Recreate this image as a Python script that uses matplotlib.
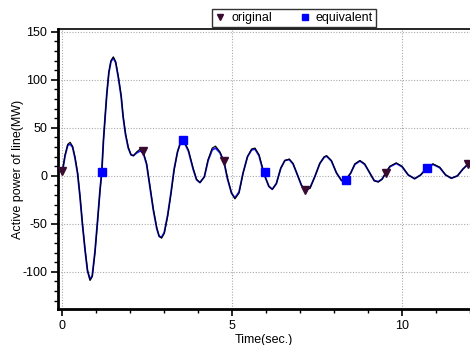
import numpy as np
import matplotlib
matplotlib.use("Agg")
from matplotlib import pyplot as plt
from matplotlib.ticker import MultipleLocator

plt.rcParams['font.family'] = ['Liberation Sans', 'DejaVu Sans']
plt.rcParams['axes.unicode_minus'] = False

# Curve (time in s, power in MW)
time = [0.0, 0.08, 0.16, 0.23, 0.30, 0.37, 0.45, 0.52, 0.59, 0.67, 0.74,
        0.815, 0.88, 0.96, 1.04, 1.11, 1.16, 1.21, 1.26, 1.31, 1.37, 1.43,
        1.50, 1.57, 1.65, 1.73, 1.79, 1.86, 1.94, 2.02, 2.09, 2.19, 2.29,
        2.38, 2.48, 2.58, 2.68, 2.78, 2.85, 2.92, 3.00, 3.10, 3.20, 3.29,
        3.39, 3.49, 3.56, 3.71, 3.85, 3.95, 4.05, 4.18, 4.29, 4.41, 4.51,
        4.64, 4.76, 4.86, 4.98, 5.08, 5.20, 5.32, 5.45, 5.57, 5.67, 5.79,
        5.88, 5.98, 6.08, 6.18, 6.30, 6.43, 6.55, 6.68, 6.79, 6.92, 7.04,
        7.16, 7.29, 7.43, 7.58, 7.71, 7.78, 7.92, 8.07, 8.22, 8.34, 8.49,
        8.61, 8.76, 8.90, 9.05, 9.18, 9.30, 9.41, 9.52, 9.64, 9.83, 10.00,
        10.18, 10.37, 10.55, 10.74, 10.91, 11.11, 11.28, 11.45, 11.63,
        11.79, 11.94, 12.0]
original = [5, 22, 33, 35, 31, 20, 3, -21, -49, -77, -98,
            -109, -105, -80, -46, -15, 4, 37, 62, 86, 108, 120,
            124, 119, 103, 84, 62, 44, 30, 22, 21, 25, 28,
            25, 13, -11, -35, -54, -63, -65, -60, -42, -18, 6,
            25, 36, 37.5, 27, 8, -3.5, -7, -1, 17, 29, 31,
            25, 15, -2, -18, -24, -18, 3, 20, 28, 29, 22,
            10, -2, -11, -14, -8, 8, 16, 17.5, 13, 1, -10,
            -15, -13, -1, 13, 20, 21, 16, 3, -5, -4.5, 3,
            12.5, 16, 12.5, 3, -5, -6.5, -3.5, 3, 10, 13.5, 10,
            1, -3, 1, 9, 12.5, 9, 1, -2.5, 0,
            7, 12.5, 13.5]
equivalent = [4, 21, 32, 33, 30, 19, 2, -22, -50, -78, -99,
              -108, -104, -79, -45, -14, 4, 37, 62, 86, 108, 119,
              123, 118, 102, 83, 61, 43, 29, 22, 21, 24, 26,
              24, 12, -12, -36, -55, -63, -64, -59, -41, -17, 7,
              25, 36, 37, 26, 7, -4, -7, -1, 16, 27, 29,
              24, 14, -3, -18, -23, -17, 3, 20, 27, 28, 21,
              9, -2, -11, -14, -8, 8, 16, 17, 12.5, 1, -10,
              -14.5, -12.5, -1, 13, 19.5, 20.5, 15.5, 3, -5, -4.5, 3,
              12, 15.5, 12, 3, -5, -6, -3.5, 3, 9.5, 13, 9.5,
              1, -3, 1, 8.5, 12, 8.5, 1, -2.5, 0,
              7, 12, 13]

# Marker points
orig_mark_t = [0.0, 2.36, 4.76, 7.15, 9.53, 11.94]
orig_mark_p = [5, 26, 15, -15, 2.5, 12.5]
equiv_mark_t = [1.16, 3.55, 5.96, 8.34, 10.74]
equiv_mark_p = [4, 37.5, 3.5, -4.5, 8.5]

fig = plt.figure(figsize=(4.7, 3.45), dpi=100)
ax = fig.add_axes([0.124, 0.1035, 0.876, 0.8125])

ax.plot(time, equivalent, color='#1010ff', lw=1.3, zorder=3)
ax.plot(time, original, color='black', lw=0.8, zorder=4)
ax.plot(orig_mark_t, orig_mark_p, 'v', color='#3a0a30', ms=6, ls='none',
        zorder=5, label='original')
ax.plot(equiv_mark_t, equiv_mark_p, 's', color='#0000ff', ms=6, ls='none',
        zorder=5, label='equivalent')

ax.set_xlim(-0.12, 12.0)
ax.set_ylim(-139, 153)
ax.xaxis.set_major_locator(MultipleLocator(5))
ax.xaxis.set_minor_locator(MultipleLocator(1))
ax.yaxis.set_major_locator(MultipleLocator(50))
ax.yaxis.set_minor_locator(MultipleLocator(10))
ax.tick_params(which='major', direction='out', length=5, width=1.2,
               labelsize=9, pad=3)
ax.tick_params(which='minor', direction='out', length=3, width=1.0)
ax.tick_params(top=False, right=False)

ax.grid(True, which='major', ls=(0, (1, 1.5)), color='#aaaaaa', lw=0.8)

for s in ['left', 'bottom']:
    ax.spines[s].set_linewidth(2.0)
ax.spines['top'].set_linewidth(1.2)
ax.spines['right'].set_visible(False)

ax.set_xlabel('Time(sec.)', fontsize=9, labelpad=1)
ax.set_ylabel('Active power of line(MW)', fontsize=9, labelpad=-1)

leg = fig.legend(loc='center', bbox_to_anchor=(0.626, 0.948), ncol=2,
                 fontsize=9, frameon=True, fancybox=False, shadow=False,
                 handlelength=0.8, handletextpad=0.5, columnspacing=2.2,
                 borderpad=0.25, markerscale=0.75)
leg.get_frame().set_edgecolor('black')
leg.get_frame().set_linewidth(1.0)

plt.savefig('out.png', dpi=100)
plt.close()
